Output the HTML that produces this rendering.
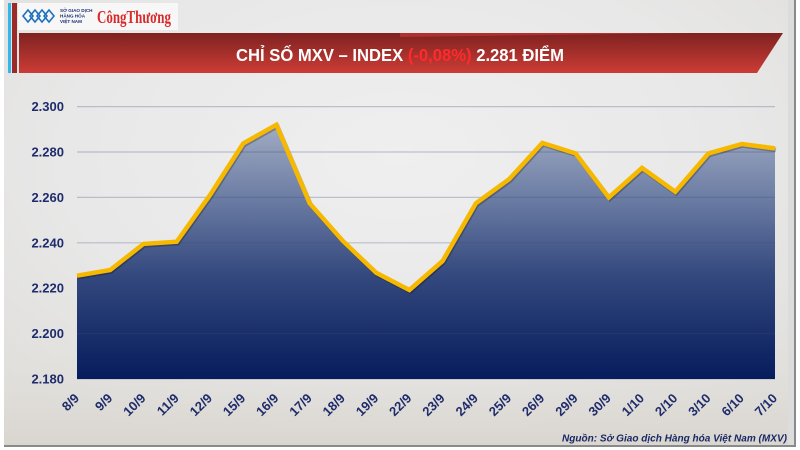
<!DOCTYPE html>
<html><head><meta charset="utf-8"><style>
html,body{margin:0;padding:0;background:#fff;}
svg{display:block;font-family:"Liberation Sans","DejaVu Sans",sans-serif;}
</style></head><body>
<svg width="800" height="450" viewBox="0 0 800 450" xmlns="http://www.w3.org/2000/svg">
<defs>
<radialGradient id="bg" cx="0.5" cy="0.35" r="0.7">
<stop offset="0" stop-color="#efefef"/><stop offset="0.6" stop-color="#e8e8e8"/><stop offset="1" stop-color="#e0dfdc"/>
</radialGradient>
<linearGradient id="bot" x1="0" y1="0" x2="0" y2="1">
<stop offset="0" stop-color="#e6e4e0" stop-opacity="0"/><stop offset="1" stop-color="#d9d5cf" stop-opacity="1"/>
</linearGradient>
<linearGradient id="ban" x1="0" y1="0" x2="0" y2="1">
<stop offset="0" stop-color="#7e2220"/><stop offset="1" stop-color="#cd3c36"/>
</linearGradient>
<linearGradient id="fill" gradientUnits="userSpaceOnUse" x1="0" y1="118" x2="0" y2="379">
<stop offset="0" stop-color="#a6b0c6"/><stop offset="0.3" stop-color="#6d7ea5"/><stop offset="0.6" stop-color="#34497e"/><stop offset="1" stop-color="#061c5d"/>
</linearGradient>
</defs>
<rect x="0" y="0" width="800" height="450" fill="#fff"/>
<rect x="4" y="0" width="790" height="445" fill="url(#bg)"/>
<rect x="4" y="330" width="790" height="115" fill="url(#bot)"/>
<rect x="794" y="0" width="2" height="446" fill="#8a8a8a"/>
<rect x="4" y="445" width="792" height="2" fill="#8a8a8a"/>
<rect x="788" y="0" width="6" height="445" fill="#dcdcdc"/>

<rect x="8" y="3" width="3" height="70" fill="#2fb9e8"/>
<rect x="12" y="3" width="5" height="70" fill="#9b2a28"/>

<rect x="18" y="3" width="160" height="27" fill="#f7f7f7"/>
<g fill="none" stroke="#1e6fc0" stroke-width="1.6">
<path d="M23 16 l5 -6 l5 6 l-5 6 z"/><path d="M30 16 l5 -6 l5 6 l-5 6 z"/><path d="M37 16 l5 -6 l5 6 l-5 6 z"/><path d="M44 16 l5 -6 l5 6 l-5 6 z"/>
</g>
<text x="60" y="12" font-size="4.6" font-weight="bold" fill="#1d2f6f">SỞ GIAO DỊCH</text>
<text x="60" y="17.5" font-size="4.6" font-weight="bold" fill="#1d2f6f">HÀNG HÓA</text>
<text x="60" y="23" font-size="4.6" font-weight="bold" fill="#1d2f6f">VIỆT NAM</text>
<text x="97" y="23" font-size="18" font-weight="bold" fill="#d82a2a" font-family="Liberation Serif, serif" textLength="74" lengthAdjust="spacingAndGlyphs">CôngThương</text>

<polygon points="19,33 783,33 757,73 19,73" fill="url(#ban)"/>
<polygon points="400,33 690,33 400,37" fill="#c23833" opacity="0.7"/>
<text x="400" y="61" text-anchor="middle" font-size="17.5" font-weight="bold" fill="#fff" textLength="328" lengthAdjust="spacingAndGlyphs">CHỈ SỐ MXV – INDEX <tspan fill="#ff2b2b">(-0,08%)</tspan> 2.281 ĐIỂM</text>

<polygon fill="url(#fill)" points="77,379 77,275.7 110.2,270.0 143.5,243.9 176.7,241.7 210,195.1 243.2,143.4 276.4,124.8 309.7,203.3 342.9,241.0 376.2,272.8 409.4,290.0 442.6,261.0 475.9,203.3 509.1,179.2 542.3,142.9 575.6,153.4 608.8,197.4 642,167.9 675.3,191.7 708.5,153.4 741.8,144.0 775,148.4 775,379"/>

<g stroke="#3c4a78" stroke-opacity="0.28" stroke-width="1.2">
<line x1="77" x2="775" y1="106.6" y2="106.6"/>
<line x1="77" x2="775" y1="152" y2="152"/>
<line x1="77" x2="775" y1="197.4" y2="197.4"/>
<line x1="77" x2="775" y1="242.8" y2="242.8"/>
<line x1="77" x2="775" y1="288.2" y2="288.2"/>
<line x1="77" x2="775" y1="333.6" y2="333.6"/>
</g>
<line x1="77" x2="775" y1="379.5" y2="379.5" stroke="#c8cad0" stroke-width="1"/>

<polyline fill="none" stroke="#000" stroke-opacity="0.25" stroke-width="4.5" stroke-linejoin="miter" transform="translate(1,1.5)" points="77,275.7 110.2,270.0 143.5,243.9 176.7,241.7 210,195.1 243.2,143.4 276.4,124.8 309.7,203.3 342.9,241.0 376.2,272.8 409.4,290.0 442.6,261.0 475.9,203.3 509.1,179.2 542.3,142.9 575.6,153.4 608.8,197.4 642,167.9 675.3,191.7 708.5,153.4 741.8,144.0 775,148.4"/>
<polyline fill="none" stroke="#f7b900" stroke-width="4.5" stroke-linejoin="miter" points="77,275.7 110.2,270.0 143.5,243.9 176.7,241.7 210,195.1 243.2,143.4 276.4,124.8 309.7,203.3 342.9,241.0 376.2,272.8 409.4,290.0 442.6,261.0 475.9,203.3 509.1,179.2 542.3,142.9 575.6,153.4 608.8,197.4 642,167.9 675.3,191.7 708.5,153.4 741.8,144.0 775,148.4"/>

<g font-size="13" font-weight="bold" fill="#1f2c6b" text-anchor="end">
<text x="64" y="111.2">2.300</text>
<text x="64" y="156.5">2.280</text>
<text x="64" y="201.9">2.260</text>
<text x="64" y="247.3">2.240</text>
<text x="64" y="292.7">2.220</text>
<text x="64" y="338.1">2.200</text>
<text x="64" y="383.5">2.180</text>
</g>

<g font-size="13" font-weight="bold" fill="#1f2c6b" text-anchor="end">
<text transform="translate(80,399) rotate(-45)">8/9</text>
<text transform="translate(113.2,399) rotate(-45)">9/9</text>
<text transform="translate(146.5,399) rotate(-45)">10/9</text>
<text transform="translate(179.7,399) rotate(-45)">11/9</text>
<text transform="translate(213,399) rotate(-45)">12/9</text>
<text transform="translate(246.2,399) rotate(-45)">15/9</text>
<text transform="translate(279.4,399) rotate(-45)">16/9</text>
<text transform="translate(312.7,399) rotate(-45)">17/9</text>
<text transform="translate(345.9,399) rotate(-45)">18/9</text>
<text transform="translate(379.2,399) rotate(-45)">19/9</text>
<text transform="translate(412.4,399) rotate(-45)">22/9</text>
<text transform="translate(445.6,399) rotate(-45)">23/9</text>
<text transform="translate(478.9,399) rotate(-45)">24/9</text>
<text transform="translate(512.1,399) rotate(-45)">25/9</text>
<text transform="translate(545.3,399) rotate(-45)">26/9</text>
<text transform="translate(578.6,399) rotate(-45)">29/9</text>
<text transform="translate(611.8,399) rotate(-45)">30/9</text>
<text transform="translate(645,399) rotate(-45)">1/10</text>
<text transform="translate(678.3,399) rotate(-45)">2/10</text>
<text transform="translate(711.5,399) rotate(-45)">3/10</text>
<text transform="translate(744.8,399) rotate(-45)">6/10</text>
<text transform="translate(778,399) rotate(-45)">7/10</text>
</g>

<text x="787" y="441.5" text-anchor="end" font-size="10.5" font-weight="bold" font-style="italic" fill="#1a2866" textLength="225" lengthAdjust="spacingAndGlyphs">Nguồn: Sở Giao dịch Hàng hóa Việt Nam (MXV)</text>
</svg>
</body></html>
